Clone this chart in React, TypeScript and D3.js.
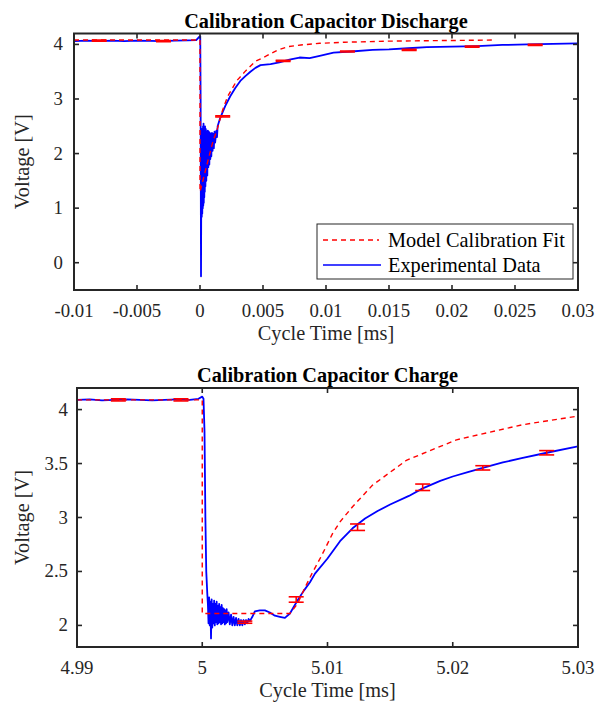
import React from 'react';
import * as d3 from 'd3';

// ---------- Top panel data (Discharge) ----------
const dischargeExpT = [-0.01, -0.009, -0.008, -0.007, -0.006, -0.005, -0.004, -0.003, -0.002, -0.001, -0.0003, -0.0001,
  0.00002, 0.00005, 0.00008, 0.0001, 0.00012, 0.00014, 0.00016, 0.00018, 0.0002, 0.00022, 0.00024, 0.00026, 0.00028,
  0.0003, 0.00032, 0.00034, 0.00036, 0.00038, 0.0004, 0.00043, 0.00046, 0.0005, 0.00054, 0.00058, 0.00062, 0.00066,
  0.0007, 0.00074, 0.00078, 0.00082, 0.00086, 0.0009, 0.00095, 0.001, 0.00105, 0.0011, 0.00115, 0.0012, 0.0013,
  0.00135, 0.0014, 0.0016, 0.002, 0.0024, 0.0028, 0.0032, 0.0036, 0.004, 0.0044, 0.0048, 0.0056, 0.0063, 0.0071,
  0.0079, 0.0087, 0.0095, 0.0106, 0.012, 0.0137, 0.015, 0.0165, 0.018, 0.02, 0.022, 0.024, 0.026, 0.028, 0.03];
const dischargeExpV = [4.06, 4.07, 4.06, 4.07, 4.06, 4.07, 4.065, 4.06, 4.07, 4.075, 4.08, 4.13,
  4.15, 3.0, -0.25, 1.2, 2.4, 0.84, 2.45, 0.9, 2.4, 1.0, 2.5, 1.05, 2.55,
  1.1, 2.5, 1.2, 2.45, 1.3, 2.5, 1.4, 2.45, 1.5, 2.4, 1.6, 2.42, 1.75,
  2.4, 1.8, 2.38, 1.9, 2.36, 1.95, 2.38, 2.05, 2.36, 2.1, 2.4, 2.2, 2.42,
  2.3, 2.5, 2.65, 2.87, 3.05, 3.2, 3.33, 3.42, 3.5, 3.57, 3.62, 3.64, 3.67, 3.72,
  3.76, 3.75, 3.79, 3.85, 3.87, 3.9, 3.91, 3.93, 3.95, 3.96, 3.97, 3.99, 4.0, 4.01, 4.02];
const dischargeFitT = [-0.01, 0, 0, 0.0005, 0.001, 0.0014, 0.0018, 0.0022, 0.0029, 0.0036, 0.0044, 0.0052, 0.0061, 0.007,
  0.008, 0.0095, 0.0115, 0.015, 0.019, 0.0232];
const dischargeFitV = [4.08, 4.08, 1.3, 1.75, 2.2, 2.47, 2.8, 3.05, 3.33, 3.51, 3.69, 3.78, 3.89, 3.96,
  3.99, 4.02, 4.04, 4.06, 4.07, 4.08];
const dischargeErrT = [-0.008, -0.0029, 0.0018, 0.0066, 0.0117, 0.0166, 0.0216, 0.0266];
const dischargeErrV = [4.07, 4.06, 2.68, 3.7, 3.87, 3.9, 3.96, 3.99];
const dischargeErrE = [0.01, 0.01, 0.01, 0.01, 0.01, 0.01, 0.01, 0.01];
const dischargeXTicks = [-0.01, -0.005, 0, 0.005, 0.01, 0.015, 0.02, 0.025, 0.03];
const dischargeXLabels = ['-0.01', '-0.005', '0', '0.005', '0.01', '0.015', '0.02', '0.025', '0.03'];
const dischargeYTicks = [0, 1, 2, 3, 4];
const dischargeYLabels = ['0', '1', '2', '3', '4'];

// ---------- Bottom panel data (Charge) ----------
const chargeExpT = [4.99, 4.991, 4.992, 4.993, 4.994, 4.995, 4.996, 4.997, 4.998, 4.999, 4.9997, 5.0, 5.0001, 5.00018,
  5.00025, 5.00032, 5.0004, 5.00045, 5.0005, 5.00055, 5.0006, 5.00065, 5.0007, 5.00075, 5.0008, 5.00085, 5.0009,
  5.00095, 5.001, 5.00105, 5.0011, 5.00115, 5.0012, 5.00125, 5.0013, 5.00135, 5.0014, 5.00145, 5.0015, 5.00155,
  5.0016, 5.00165, 5.0017, 5.00175, 5.0018, 5.00185, 5.0019, 5.00195, 5.002, 5.0021, 5.0022, 5.0023, 5.0024, 5.0025,
  5.0026, 5.0027, 5.0028, 5.0029, 5.003, 5.0031, 5.0032, 5.0033, 5.0034, 5.0035, 5.0036, 5.0037, 5.0038, 5.004,
  5.0042, 5.0046, 5.005, 5.0054, 5.0058, 5.0062, 5.0066, 5.007, 5.0073, 5.0076, 5.0081, 5.0086, 5.009, 5.01, 5.011,
  5.012, 5.013, 5.014, 5.015, 5.0165, 5.0176, 5.019, 5.02, 5.0212, 5.0224, 5.024, 5.0255, 5.0275, 5.03];
const chargeExpV = [4.09, 4.095, 4.085, 4.09, 4.095, 4.09, 4.085, 4.09, 4.095, 4.09, 4.1, 4.12, 4.1, 3.8,
  3.0, 2.5, 2.3, 2.2, 2.02, 2.26, 2.0, 2.22, 1.88, 2.24, 1.98, 2.2, 2.02,
  2.23, 2.0, 2.2, 2.03, 2.22, 2.01, 2.18, 2.02, 2.2, 2.03, 2.17, 2.01, 2.19,
  2.02, 2.16, 2.03, 2.15, 2.01, 2.14, 2.02, 2.15, 2.03, 2.12, 2.01, 2.1, 2.0, 2.08,
  2.0, 2.07, 2.0, 2.06, 2.0, 2.05, 2.0, 2.05, 2.01, 2.05, 2.02, 2.06, 2.04, 2.08,
  2.13, 2.14, 2.14, 2.12, 2.09, 2.08, 2.07, 2.11, 2.17, 2.23, 2.32, 2.4, 2.48, 2.62, 2.78,
  2.9, 2.99, 3.06, 3.12, 3.2, 3.27, 3.34, 3.38, 3.42, 3.46, 3.51, 3.55, 3.6, 3.66];
const chargeFitT = [4.99, 5.0, 5.0, 5.007, 5.0076, 5.0082, 5.0088, 5.0095, 5.0104, 5.011, 5.012, 5.0136, 5.0163, 5.0203, 5.0256, 5.03];
const chargeFitV = [4.09, 4.09, 2.11, 2.11, 2.2, 2.35, 2.49, 2.64, 2.85, 2.96, 3.1, 3.3, 3.53, 3.72, 3.86, 3.94];
const chargeErrT = [4.9933, 4.9983, 5.0034, 5.0075, 5.0124, 5.0176, 5.0224, 5.0275];
const chargeErrV = [4.09, 4.09, 2.03, 2.24, 2.91, 3.28, 3.46, 3.6];
const chargeErrE = [0.01, 0.01, 0.01, 0.025, 0.03, 0.03, 0.02, 0.02];
const chargeXTicks = [4.99, 5.0, 5.01, 5.02, 5.03];
const chargeXLabels = ['4.99', '5', '5.01', '5.02', '5.03'];
const chargeYTicks = [2, 2.5, 3, 3.5, 4];
const chargeYLabels = ['2', '2.5', '3', '3.5', '4'];

const FONT = '"Liberation Serif", "Times New Roman", Times, serif';
const RED = '#ff0000';
const BLUE = '#0000ff';

type PanelProps = {
  id: string;
  title: string;
  left: number; right: number; top: number; bottom: number;
  xDomain: [number, number]; yDomain: [number, number];
  expT: number[]; expV: number[];
  fitT: number[]; fitV: number[];
  errT: number[]; errV: number[]; errE: number[];
  xTicks: number[]; xLabels: string[];
  yTicks: number[]; yLabels: string[];
  yLabelRight: number;
  legend?: boolean;
};

function Panel(p: PanelProps) {
  const x = d3.scaleLinear().domain(p.xDomain).range([p.left, p.right]);
  const y = d3.scaleLinear().domain(p.yDomain).range([p.bottom, p.top]);
  const line = d3.line<[number, number]>().x(d => x(d[0])).y(d => y(d[1]));
  const exp = line(p.expT.map((t, i) => [t, p.expV[i]] as [number, number])) || '';
  const fit = line(p.fitT.map((t, i) => [t, p.fitV[i]] as [number, number])) || '';
  const tickLen = 5;
  const cx = (p.left + p.right) / 2;
  const cy = (p.top + p.bottom) / 2;
  return (
    <g>
      <defs>
        <clipPath id={p.id}>
          <rect x={p.left} y={p.top} width={p.right - p.left} height={p.bottom - p.top} />
        </clipPath>
      </defs>
      <rect x={p.left} y={p.top} width={p.right - p.left} height={p.bottom - p.top} fill="#fff" />
      <g clipPath={`url(#${p.id})`}>
        <path d={exp} fill="none" stroke={BLUE} strokeWidth={1.8} strokeLinejoin="round" />
        <path d={fit} fill="none" stroke={RED} strokeWidth={1.4} strokeDasharray="5,4" />
        {p.errT.map((t, i) => {
          const xc = x(t);
          const y1 = y(p.errV[i] + p.errE[i]);
          const y0 = y(p.errV[i] - p.errE[i]);
          return (
            <g key={i} stroke={RED} strokeWidth={1.6}>
              <line x1={xc} x2={xc} y1={y0} y2={y1} />
              <line x1={xc - 7.5} x2={xc + 7.5} y1={y0} y2={y0} />
              <line x1={xc - 7.5} x2={xc + 7.5} y1={y1} y2={y1} />
            </g>
          );
        })}
      </g>
      {/* ticks */}
      <g stroke="#262626" strokeWidth={1.6}>
        {p.xTicks.map((t, i) => (
          <g key={'x' + i}>
            <line x1={x(t)} x2={x(t)} y1={p.bottom} y2={p.bottom - tickLen} />
            <line x1={x(t)} x2={x(t)} y1={p.top} y2={p.top + tickLen} />
          </g>
        ))}
        {p.yTicks.map((t, i) => (
          <g key={'y' + i}>
            <line x1={p.left} x2={p.left + tickLen} y1={y(t)} y2={y(t)} />
            <line x1={p.right} x2={p.right - tickLen} y1={y(t)} y2={y(t)} />
          </g>
        ))}
      </g>
      <rect x={p.left} y={p.top} width={p.right - p.left} height={p.bottom - p.top} fill="none" stroke="#262626" strokeWidth={2} />
      {/* tick labels */}
      <g fontFamily={FONT} fontSize={18.8} fill="#262626">
        {p.xTicks.map((t, i) => (
          <text key={'xl' + i} x={x(t)} y={p.bottom + 27} textAnchor="middle">{p.xLabels[i]}</text>
        ))}
        {p.yTicks.map((t, i) => (
          <text key={'yl' + i} x={p.yLabelRight} y={y(t) + 6} textAnchor="end">{p.yLabels[i]}</text>
        ))}
      </g>
      <text x={cx} y={p.top - 6} textAnchor="middle" fontFamily={FONT} fontSize={20.3} fontWeight="bold" fill="#000">{p.title}</text>
      <text x={cx} y={p.bottom + 50} textAnchor="middle" fontFamily={FONT} fontSize={20.3} fill="#262626">Cycle Time [ms]</text>
      <text transform={`translate(29,${cy}) rotate(-90)`} textAnchor="middle" fontFamily={FONT} fontSize={20.3} fill="#262626">Voltage [V]</text>
      {p.legend && (
        <g>
          <rect x={317} y={224} width={256} height={55} fill="#fff" stroke="#262626" strokeWidth={1} />
          <line x1={323} x2={379} y1={240} y2={240} stroke={RED} strokeWidth={1.4} strokeDasharray="5,4" />
          <line x1={323} x2={381} y1={265} y2={265} stroke={BLUE} strokeWidth={1.6} />
          <g fontFamily={FONT} fontSize={20.3} fill="#000">
            <text x={388} y={247}>Model Calibration Fit</text>
            <text x={388} y={272}>Experimental Data</text>
          </g>
        </g>
      )}
    </g>
  );
}

export default function App() {
  return (
    <svg width={595} height={703} style={{ position: 'absolute', left: 0, top: 0, background: '#fff' }}>
      <rect x={0} y={0} width={595} height={703} fill="#fff" />
      <Panel id="clipTop" title="Calibration Capacitor Discharge"
        left={74} right={578} top={33.5} bottom={290}
        xDomain={[-0.01, 0.03]} yDomain={[-0.5, 4.2]}
        expT={dischargeExpT} expV={dischargeExpV}
        fitT={dischargeFitT} fitV={dischargeFitV}
        errT={dischargeErrT} errV={dischargeErrV} errE={dischargeErrE}
        xTicks={dischargeXTicks} xLabels={dischargeXLabels}
        yTicks={dischargeYTicks} yLabels={dischargeYLabels}
        yLabelRight={63} legend />
      <Panel id="clipBottom" title="Calibration Capacitor Charge"
        left={77} right={578} top={388} bottom={647}
        xDomain={[4.99, 5.03]} yDomain={[1.8, 4.2]}
        expT={chargeExpT} expV={chargeExpV}
        fitT={chargeFitT} fitV={chargeFitV}
        errT={chargeErrT} errV={chargeErrV} errE={chargeErrE}
        xTicks={chargeXTicks} xLabels={chargeXLabels}
        yTicks={chargeYTicks} yLabels={chargeYLabels}
        yLabelRight={68} />
    </svg>
  );
}
